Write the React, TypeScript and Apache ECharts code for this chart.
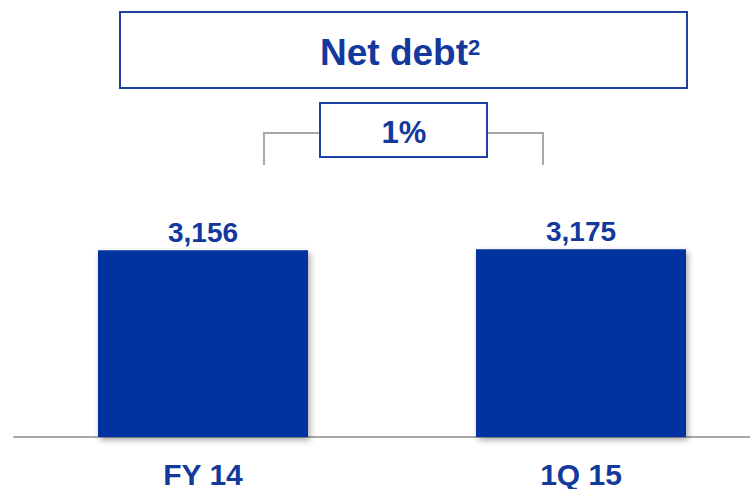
import React, { useEffect, useRef } from "react";
import * as echarts from "echarts";

const categories = ["FY 14", "1Q 15"];
const netDebt = [3156, 3175];
const changeLabel = "1%";
const titleText = "Net debt";
const titleSup = "2";

const FONT = "'Liberation Sans', Arial, sans-serif";
const BLUE = "#0033A0";
const TEXT_BLUE = "#12399B";
const BOX_BLUE = "#1E40A0";
const GREY = "#A8A8A8";

export default function App() {
  const ref = useRef<HTMLDivElement>(null);
  useEffect(() => {
    document.body.style.margin = "0";
    if (!ref.current) return;
    const chart = echarts.init(ref.current, undefined, { renderer: "svg" });
    chart.setOption({
      animation: false,
      backgroundColor: "#ffffff",
      grid: { left: 14, right: 0, top: 23, bottom: 52, containLabel: false },
      xAxis: {
        type: "category",
        data: categories,
        axisLine: { show: true, lineStyle: { color: GREY, width: 2 } },
        axisTick: { show: false },
        axisLabel: {
          margin: 22,
          color: TEXT_BLUE,
          fontFamily: FONT,
          fontWeight: "bold",
          fontSize: 30,
        },
      },
      yAxis: {
        type: "value",
        min: 0,
        max: 7000,
        show: false,
        splitLine: { show: false },
      },
      series: [
        {
          type: "bar",
          data: netDebt,
          barWidth: 210,
          itemStyle: {
            color: BLUE,
            shadowBlur: 6,
            shadowColor: "rgba(0,0,0,0.35)",
            shadowOffsetX: 2,
            shadowOffsetY: 3,
          },
          label: {
            show: true,
            position: "top",
            distance: 4,
            color: TEXT_BLUE,
            fontFamily: FONT,
            fontWeight: "bold",
            fontSize: 28,
            formatter: (p: any) => Number(p.value).toLocaleString("en-US"),
          },
        },
      ],
      graphic: [
        {
          type: "rect",
          shape: { x: 120, y: 12, width: 567, height: 76 },
          style: { fill: "#ffffff", stroke: BOX_BLUE, lineWidth: 2 },
        },
        {
          type: "text",
          x: 320,
          y: 52,
          style: {
            text: titleText,
            fill: TEXT_BLUE,
            font: `bold 37px ${FONT}`,
            textAlign: "left",
            textVerticalAlign: "middle",
          },
        },
        {
          type: "text",
          x: 468,
          y: 47,
          style: {
            text: titleSup,
            fill: TEXT_BLUE,
            font: `bold 22px ${FONT}`,
            textAlign: "left",
            textVerticalAlign: "middle",
          },
        },
        {
          type: "polyline",
          shape: { points: [[264, 165], [264, 133], [320, 133]] },
          style: { stroke: GREY, lineWidth: 2, fill: "none" },
        },
        {
          type: "polyline",
          shape: { points: [[487, 133], [543, 133], [543, 165]] },
          style: { stroke: GREY, lineWidth: 2, fill: "none" },
        },
        {
          type: "rect",
          shape: { x: 320, y: 103, width: 167, height: 54 },
          style: { fill: "#ffffff", stroke: BOX_BLUE, lineWidth: 2 },
        },
        {
          type: "text",
          x: 404,
          y: 132,
          style: {
            text: changeLabel,
            fill: TEXT_BLUE,
            font: `bold 31px ${FONT}`,
            textAlign: "center",
            textVerticalAlign: "middle",
          },
        },
      ],
    });
    return () => chart.dispose();
  }, []);
  return (
    <div style={{ width: 750, height: 489, overflow: "hidden", position: "relative" }}>
      <div ref={ref} style={{ width: 770, height: 489 }} />
    </div>
  );
}
